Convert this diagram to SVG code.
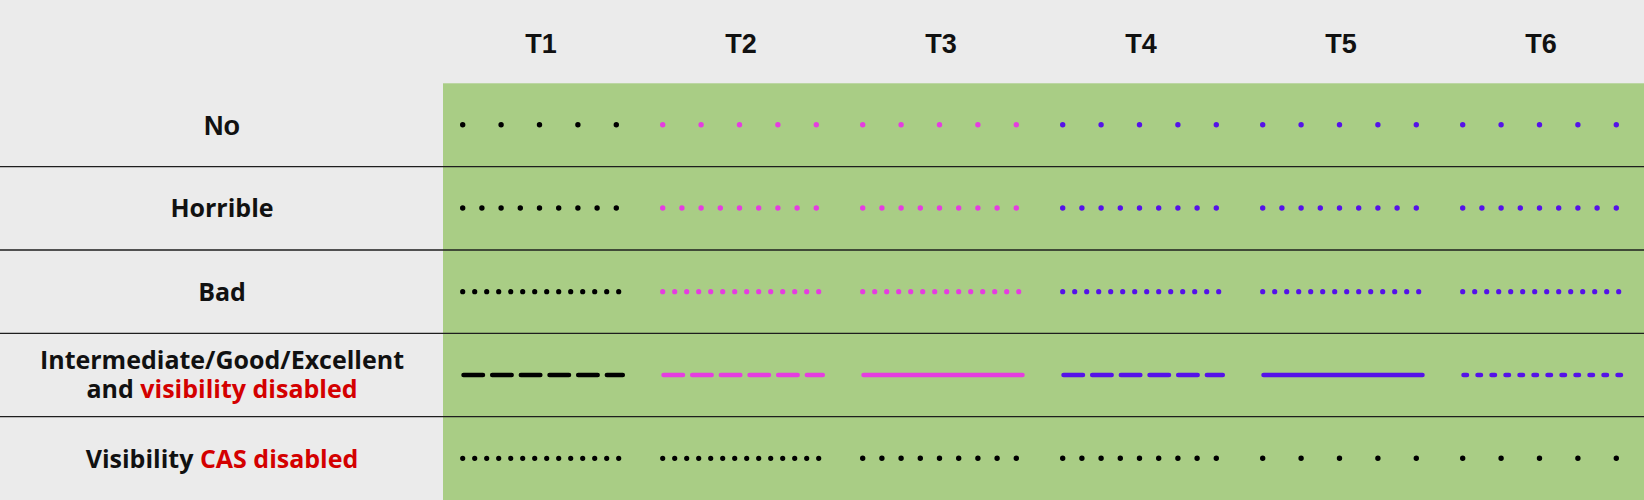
<svg xmlns="http://www.w3.org/2000/svg" width="1644" height="500" viewBox="0 0 1644 500">
<style>
.lbl{font-family:"Open Sans","Liberation Sans",sans-serif;font-weight:700;font-size:25px;fill:#111;text-anchor:middle}
.ar{font-family:"Liberation Sans",Arial,sans-serif;font-weight:700;font-size:27px;fill:#111;text-anchor:middle}
.red{fill:#d40000}
.sep{stroke:#1e1e1e;stroke-width:1.3}
.p{fill:none;stroke-linecap:round}
.d1{stroke-width:5.4;stroke-dasharray:0 38.4}
.d2{stroke-width:5.4;stroke-dasharray:0 19.2}
.d3{stroke-width:5.2;stroke-dasharray:0 12}
.ds{stroke-width:4.5;stroke-dasharray:19.5 9.17}
.sl{stroke-width:4.5}
.sd{stroke-width:4.5;stroke-dasharray:3.5 10.5}
.k{stroke:#000}
.m{stroke:#e53de0}
.b{stroke:#5512e8}
</style>
<rect x="0" y="0" width="1644" height="500" fill="#ebebeb"/>
<rect x="443" y="83.3" width="1201" height="416.7" fill="#a9cd85"/>
<g id="header">
<text class="ar" x="541" y="52.5">T1</text>
<text class="ar" x="741" y="52.5">T2</text>
<text class="ar" x="941" y="52.5">T3</text>
<text class="ar" x="1141" y="52.5">T4</text>
<text class="ar" x="1341" y="52.5">T5</text>
<text class="ar" x="1541" y="52.5">T6</text>
</g>
<g id="separators">
<line class="sep" x1="0" y1="166.7" x2="1644" y2="166.7"/>
<line class="sep" x1="0" y1="250" x2="1644" y2="250"/>
<line class="sep" x1="0" y1="333.3" x2="1644" y2="333.3"/>
<line class="sep" x1="0" y1="416.7" x2="1644" y2="416.7"/>
</g>
<g id="row-no">
<text class="ar" x="222" y="134.5">No</text>
<line class="p d1 k" x1="462.7" y1="124.7" x2="617.3" y2="124.7"/>
<line class="p d1 m" x1="662.7" y1="124.7" x2="817.3" y2="124.7"/>
<line class="p d1 m" x1="862.7" y1="124.7" x2="1017.3" y2="124.7"/>
<line class="p d1 b" x1="1062.7" y1="124.7" x2="1217.3" y2="124.7"/>
<line class="p d1 b" x1="1262.7" y1="124.7" x2="1417.3" y2="124.7"/>
<line class="p d1 b" x1="1462.7" y1="124.7" x2="1617.3" y2="124.7"/>
</g>
<g id="row-horrible">
<text class="lbl" x="222" y="217.3">Horrible</text>
<line class="p d2 k" x1="462.7" y1="208" x2="617.3" y2="208"/>
<line class="p d2 m" x1="662.7" y1="208" x2="817.3" y2="208"/>
<line class="p d2 m" x1="862.7" y1="208" x2="1017.3" y2="208"/>
<line class="p d2 b" x1="1062.7" y1="208" x2="1217.3" y2="208"/>
<line class="p d2 b" x1="1262.7" y1="208" x2="1417.3" y2="208"/>
<line class="p d2 b" x1="1462.7" y1="208" x2="1617.3" y2="208"/>
</g>
<g id="row-bad">
<text class="lbl" x="222" y="300.5">Bad</text>
<line class="p d3 k" x1="462.7" y1="291.7" x2="619.5" y2="291.7"/>
<line class="p d3 m" x1="662.7" y1="291.7" x2="819.5" y2="291.7"/>
<line class="p d3 m" x1="862.7" y1="291.7" x2="1019.5" y2="291.7"/>
<line class="p d3 b" x1="1062.7" y1="291.7" x2="1219.5" y2="291.7"/>
<line class="p d3 b" x1="1262.7" y1="291.7" x2="1419.5" y2="291.7"/>
<line class="p d3 b" x1="1462.7" y1="291.7" x2="1619.5" y2="291.7"/>
</g>
<g id="row-intermediate">
<text class="lbl" x="222" y="369.3">Intermediate/Good/Excellent</text>
<text class="lbl" x="222" y="398.3">and <tspan class="red">visibility disabled</tspan></text>
<line class="p ds k" x1="463.5" y1="375" x2="622.8" y2="375"/>
<line class="p ds m" x1="663.5" y1="375" x2="822.8" y2="375"/>
<line class="p sl m" x1="863.5" y1="375" x2="1022.5" y2="375"/>
<line class="p ds b" x1="1063.5" y1="375" x2="1222.8" y2="375"/>
<line class="p sl b" x1="1263.5" y1="375" x2="1422.5" y2="375"/>
<line class="p sd b" x1="1463.5" y1="375" x2="1621" y2="375"/>
</g>
<g id="row-cas">
<text class="lbl" x="222" y="467.7">Visibility <tspan class="red">CAS disabled</tspan></text>
<line class="p d3 k" x1="462.7" y1="458.3" x2="619.5" y2="458.3"/>
<line class="p d3 k" x1="662.7" y1="458.3" x2="819.5" y2="458.3"/>
<line class="p d2 k" x1="862.7" y1="458.3" x2="1017.3" y2="458.3"/>
<line class="p d2 k" x1="1062.7" y1="458.3" x2="1217.3" y2="458.3"/>
<line class="p d1 k" x1="1262.7" y1="458.3" x2="1417.3" y2="458.3"/>
<line class="p d1 k" x1="1462.7" y1="458.3" x2="1617.3" y2="458.3"/>
</g>
</svg>
